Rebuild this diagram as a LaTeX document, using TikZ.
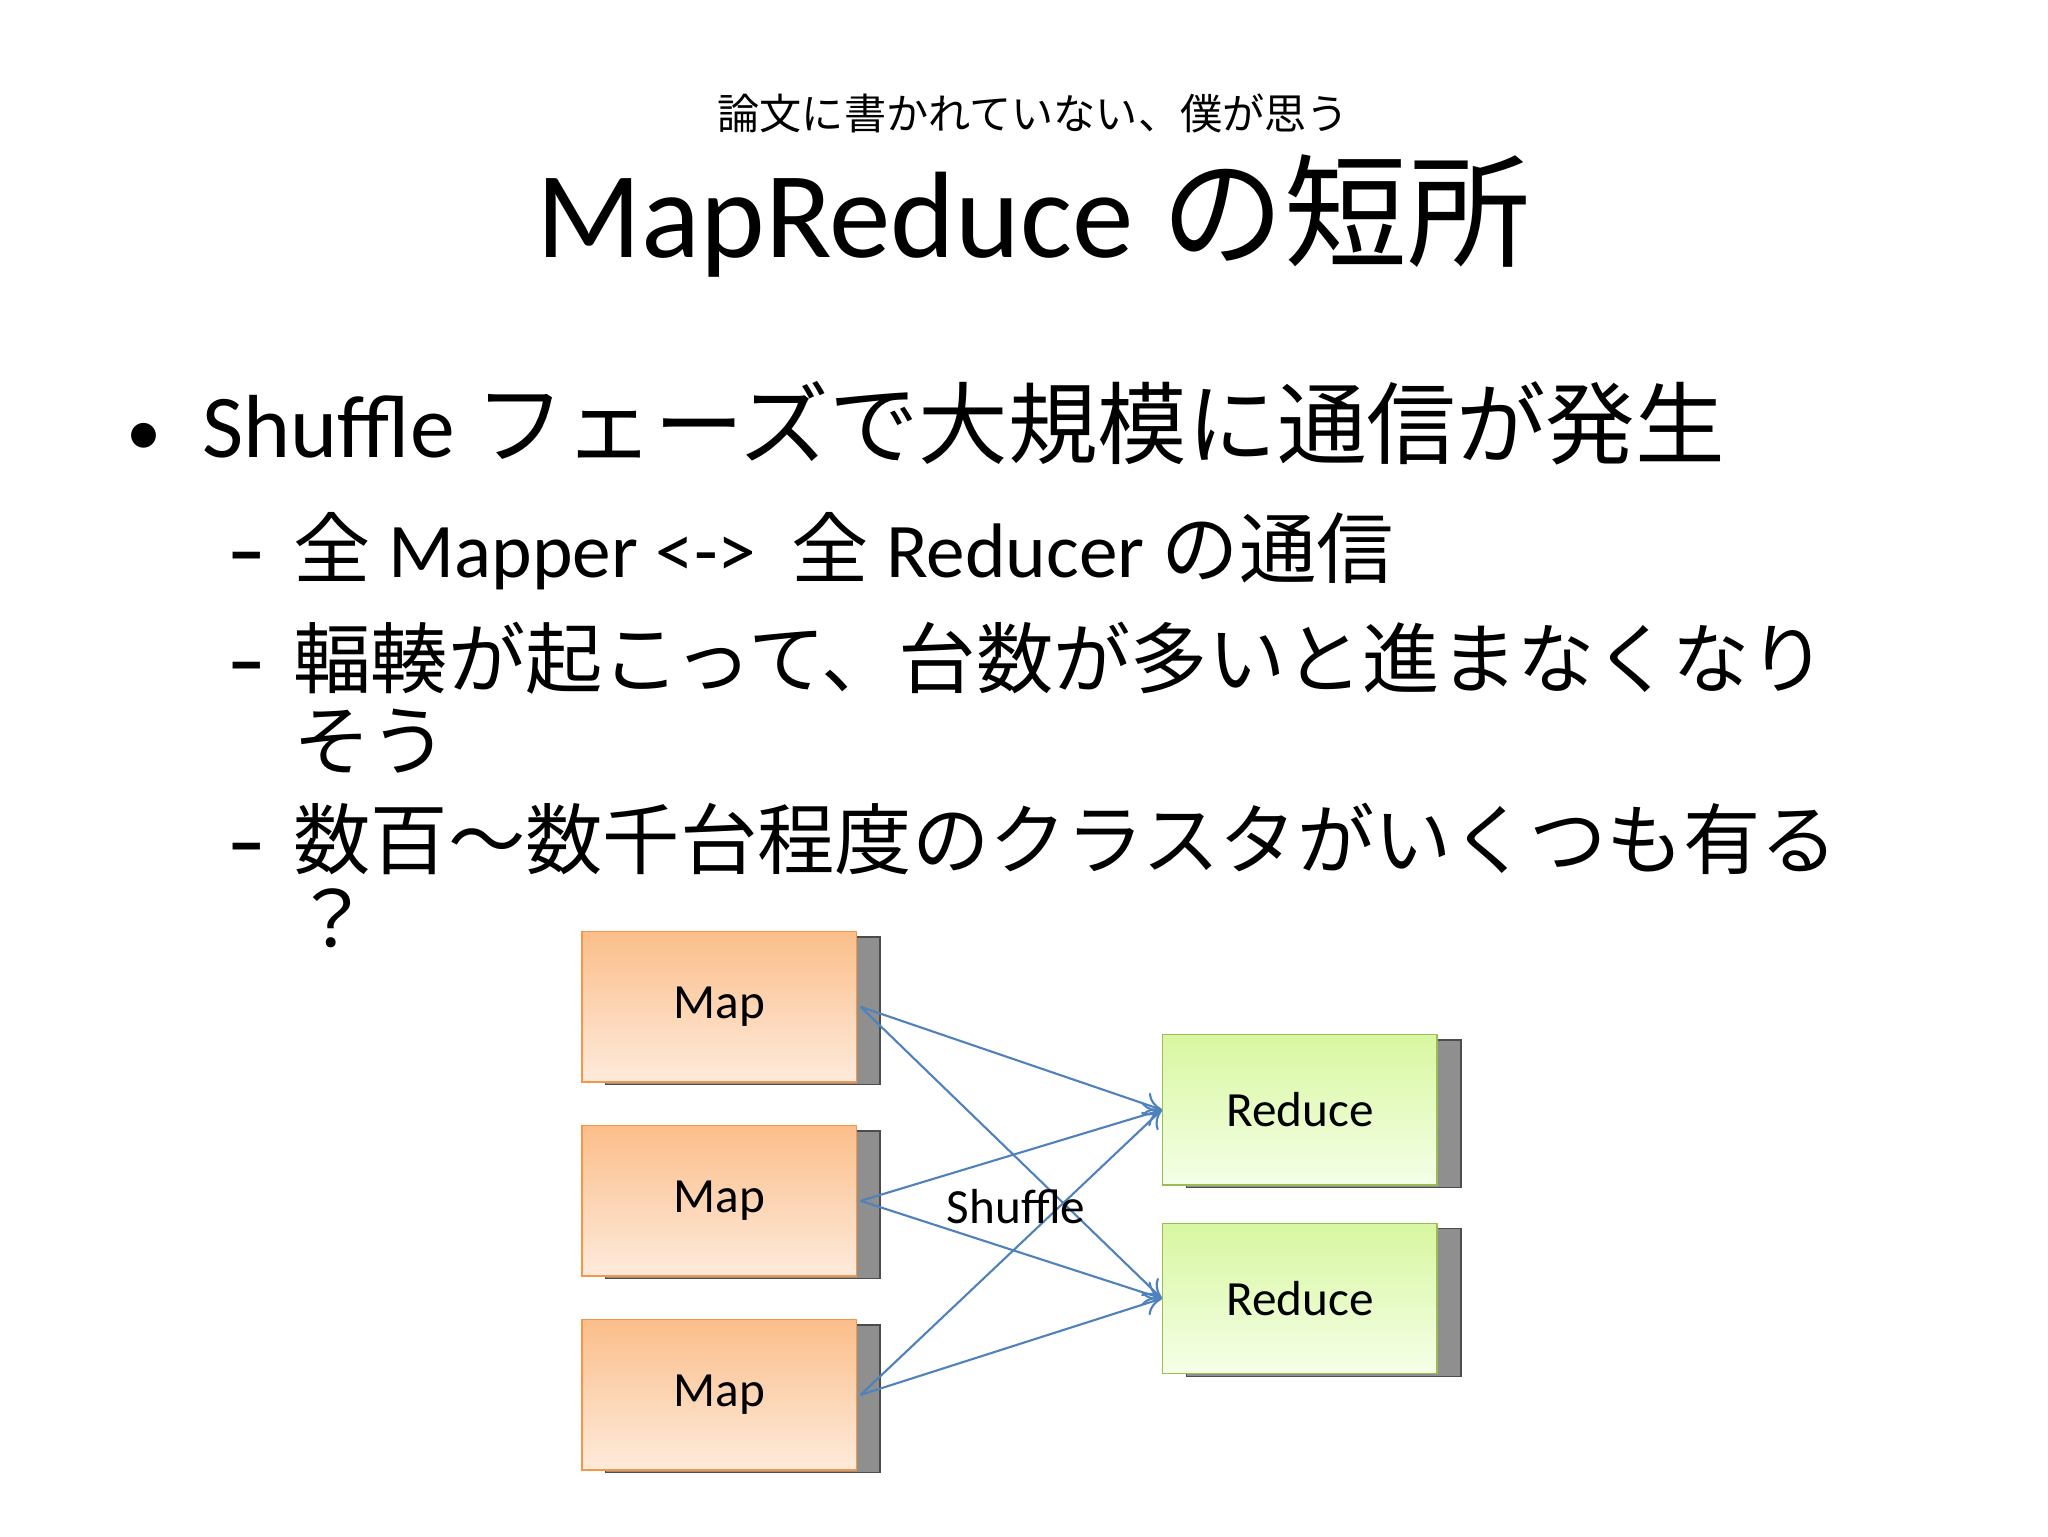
\documentclass[tikz,border=0pt]{standalone}
\usepackage{fontspec}
\setmainfont{Carlito}
\newfontfamily\cjk{Noto Sans CJK JP}
\usetikzlibrary{arrows.meta,shadows}
\definecolor{mapT}{HTML}{FBBE8A}\definecolor{mapB}{HTML}{FEEBDC}\definecolor{mapD}{HTML}{F79646}
\definecolor{redT}{HTML}{D8F7A0}\definecolor{redB}{HTML}{F5FFE8}\definecolor{redD}{HTML}{9BBB59}
\definecolor{arr}{HTML}{4F81BD}
\begin{document}
\begin{tikzpicture}[x=0.0132cm,y=-0.0132cm,
  box/.style={minimum width=208*0.0132cm,minimum height=114*0.0132cm,inner sep=0pt,font=\fontsize{14}{16}\selectfont},
  mapbox/.style={box,draw=mapD,top color=mapT,bottom color=mapB},
  redbox/.style={box,draw=redD,top color=redT,bottom color=redB},
  shad/.style={fill=gray!75!black!70,draw=gray!60!black},
  con/.style={arr,line width=0.6pt,-{To[length=5pt,width=7pt]}},
  txt/.style={anchor=base west,inner sep=0pt}]
\useasboundingbox (0,0) rectangle (1552,1164);
% title
\node[anchor=base,inner sep=0pt,font=\cjk\fontsize{12}{14}\selectfont] (sub) at (783,98) {論文に書かれていない、僕が思う};
\node[anchor=base,inner sep=0pt,font=\fontsize{35}{40}\selectfont] (title) at (783,195) {MapReduce {\cjk の短所}};
% bullets
\node[txt,font=\fontsize{20}{32}\selectfont] (b0) at (95,345) {•};
\node[txt,font=\fontsize{25.5}{32}\selectfont] (b1) at (153,347) {Shuffle {\cjk フェーズで大規模に通信が発生}};
\begin{scope}[font=\fontsize{22}{26}\selectfont]
\node[txt] (d1) at (172,438) {\textbf{–}};
\node[txt] (l1) at (222,438) {{\cjk 全} Mapper <->\ \ {\cjk 全} Reducer {\cjk の通信}};
\node[txt] (d2) at (172,521) {\textbf{–}};
\node[txt] (l2) at (222,521) {\cjk 輻輳が起こって、台数が多いと進まなくなり};
\node[txt] (l2b) at (222,583) {\cjk そう};
\node[txt] (d3) at (172,658) {\textbf{–}};
\node[txt] (l3) at (222,658) {\cjk 数百〜数千台程度のクラスタがいくつも有る};
\node[txt] (l3b) at (222,718) {\cjk ？};
\end{scope}
% shadows
\foreach \x/\y in {459/710,459/857,459/1004,899/788,899/931}
  \path[shad] (\x,\y) rectangle ++(208,112);
\node[mapbox] (m1) at (545,763) {Map};
\node[mapbox] (m2) at (545,910) {Map};
\node[mapbox] (m3) at (545,1057) {Map};
\node[redbox] (r1) at (985,841) {Reduce};
\node[redbox] (r2) at (985,984) {Reduce};
\foreach \m in {m1,m2,m3}{
  \draw[con] ([xshift=1pt]\m.east) -- (r1.west);
  \draw[con] ([xshift=1pt]\m.east) -- (r2.west);}
\node[font=\fontsize{14}{16}\selectfont,inner sep=0pt] (sh) at (770,914) {Shuffle};
\end{tikzpicture}
\end{document}
